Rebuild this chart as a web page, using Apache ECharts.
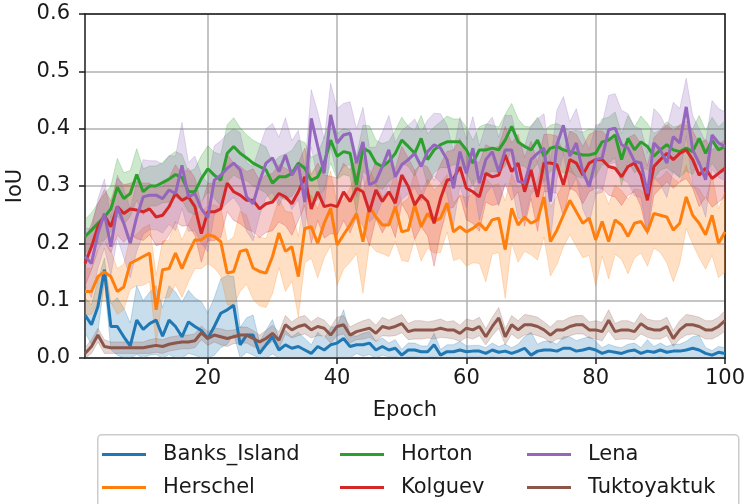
<!DOCTYPE html>
<html>
<head>
<meta charset="utf-8">
<script src="https://cdn.jsdelivr.net/npm/echarts@6/dist/echarts.min.js"></script>
<style>
  html, body { margin: 0; padding: 0; background: #ffffff; }
  #chart { width: 748px; height: 504px; }
</style>
</head>
<body>
<div id="chart"></div>
<script>
// Training curves: mean IoU per epoch for each site, with a shaded spread band.
const epochs = Array.from({ length: 100 }, (_, i) => i + 1);
const xTicks = [20, 40, 60, 80, 100];
const siteNames = ['Banks_Island', 'Herschel', 'Horton', 'Kolguev', 'Lena', 'Tuktoyaktuk'];

const banksIsland = [
  0.075,0.058,0.090,0.154,0.055,0.055,0.037,0.021,0.066,0.050,
  0.060,0.066,0.038,0.066,0.055,0.037,0.063,0.055,0.048,0.034,
  0.055,0.078,0.084,0.092,0.023,0.040,0.040,0.008,0.023,0.037,
  0.014,0.023,0.017,0.020,0.014,0.008,0.020,0.014,0.023,0.026,
  0.034,0.020,0.023,0.023,0.026,0.014,0.020,0.014,0.017,0.005,
  0.014,0.014,0.011,0.011,0.023,0.005,0.011,0.011,0.014,0.011,
  0.012,0.012,0.008,0.014,0.010,0.012,0.008,0.012,0.017,0.005,
  0.012,0.014,0.014,0.012,0.017,0.017,0.012,0.014,0.017,0.014,
  0.008,0.012,0.010,0.008,0.012,0.014,0.008,0.012,0.010,0.014,
  0.010,0.012,0.012,0.014,0.017,0.014,0.008,0.005,0.010,0.008
];
const banksIslandSpread = [
  0.030,0.035,0.045,0.020,0.040,0.050,0.050,0.040,0.060,0.050,
  0.055,0.060,0.050,0.060,0.060,0.060,0.055,0.050,0.050,0.045,
  0.050,0.060,0.060,0.050,0.030,0.030,0.035,0.020,0.025,0.030,
  0.020,0.025,0.020,0.025,0.020,0.015,0.025,0.020,0.030,0.030,
  0.050,0.020,0.015,0.020,0.020,0.015,0.015,0.012,0.015,0.010,
  0.012,0.012,0.010,0.010,0.020,0.010,0.012,0.012,0.015,0.010,
  0.010,0.010,0.010,0.012,0.010,0.012,0.010,0.012,0.020,0.040,
  0.012,0.015,0.015,0.012,0.020,0.020,0.018,0.020,0.020,0.015,
  0.010,0.012,0.010,0.010,0.012,0.012,0.010,0.020,0.010,0.012,
  0.010,0.012,0.012,0.015,0.020,0.025,0.010,0.008,0.010,0.010
];

const herschel = [
  0.116,0.116,0.142,0.150,0.142,0.116,0.124,0.165,0.171,0.177,
  0.183,0.084,0.154,0.156,0.183,0.156,0.183,0.206,0.206,0.215,
  0.212,0.203,0.148,0.151,0.186,0.189,0.157,0.151,0.148,0.177,
  0.218,0.186,0.194,0.142,0.226,0.229,0.200,0.235,0.261,0.197,
  0.215,0.232,0.252,0.203,0.264,0.246,0.232,0.232,0.264,0.220,
  0.223,0.267,0.229,0.252,0.238,0.244,0.270,0.220,0.229,0.220,
  0.226,0.235,0.223,0.241,0.244,0.189,0.261,0.232,0.246,0.235,
  0.241,0.281,0.203,0.223,0.249,0.275,0.255,0.235,0.244,0.206,
  0.238,0.203,0.241,0.232,0.212,0.235,0.238,0.220,0.252,0.249,
  0.246,0.223,0.235,0.281,0.249,0.235,0.215,0.249,0.200,0.220
];
const herschelSpread = [
  0.040,0.040,0.045,0.050,0.045,0.040,0.040,0.045,0.045,0.050,
  0.050,0.060,0.050,0.050,0.055,0.050,0.050,0.050,0.050,0.050,
  0.055,0.060,0.055,0.060,0.070,0.060,0.055,0.060,0.060,0.065,
  0.060,0.070,0.060,0.070,0.060,0.055,0.060,0.060,0.065,0.070,
  0.060,0.065,0.070,0.090,0.065,0.060,0.050,0.055,0.060,0.050,
  0.055,0.060,0.060,0.060,0.055,0.060,0.050,0.050,0.055,0.060,
  0.060,0.070,0.090,0.060,0.060,0.085,0.060,0.065,0.060,0.055,
  0.070,0.070,0.060,0.060,0.055,0.060,0.060,0.060,0.065,0.080,
  0.060,0.065,0.060,0.060,0.065,0.060,0.055,0.060,0.060,0.065,
  0.080,0.090,0.070,0.055,0.050,0.060,0.060,0.070,0.060,0.070
];

const horton = [
  0.212,0.223,0.235,0.246,0.260,0.298,0.278,0.287,0.320,0.290,
  0.300,0.300,0.306,0.312,0.320,0.315,0.290,0.290,0.313,0.330,
  0.319,0.310,0.357,0.369,0.357,0.349,0.340,0.334,0.328,0.305,
  0.316,0.316,0.322,0.340,0.331,0.310,0.316,0.340,0.380,0.352,
  0.360,0.357,0.302,0.366,0.360,0.340,0.334,0.343,0.357,0.380,
  0.369,0.357,0.383,0.346,0.363,0.372,0.377,0.377,0.377,0.363,
  0.340,0.363,0.363,0.366,0.363,0.380,0.404,0.377,0.369,0.363,
  0.380,0.352,0.366,0.369,0.363,0.360,0.357,0.354,0.354,0.357,
  0.377,0.380,0.389,0.346,0.383,0.363,0.377,0.369,0.352,0.363,
  0.372,0.363,0.360,0.366,0.360,0.383,0.357,0.380,0.363,0.369
];
const hortonSpread = [
  0.030,0.030,0.035,0.040,0.040,0.050,0.045,0.040,0.045,0.040,
  0.035,0.035,0.035,0.040,0.040,0.040,0.035,0.040,0.040,0.040,
  0.040,0.045,0.050,0.050,0.045,0.040,0.040,0.040,0.040,0.035,
  0.035,0.040,0.040,0.040,0.045,0.040,0.040,0.045,0.040,0.040,
  0.040,0.040,0.050,0.040,0.045,0.040,0.040,0.035,0.040,0.040,
  0.035,0.040,0.040,0.045,0.040,0.040,0.045,0.040,0.040,0.040,
  0.040,0.040,0.045,0.040,0.040,0.045,0.040,0.040,0.035,0.040,
  0.040,0.045,0.040,0.040,0.040,0.035,0.040,0.040,0.045,0.040,
  0.040,0.040,0.040,0.045,0.040,0.040,0.045,0.040,0.040,0.035,
  0.040,0.040,0.045,0.040,0.040,0.040,0.040,0.040,0.040,0.045
];

const kolguev = [
  0.165,0.194,0.229,0.249,0.229,0.264,0.252,0.260,0.258,0.255,
  0.260,0.246,0.249,0.264,0.287,0.275,0.281,0.264,0.217,0.255,
  0.255,0.260,0.305,0.290,0.284,0.275,0.275,0.260,0.269,0.272,
  0.287,0.281,0.269,0.290,0.316,0.260,0.290,0.264,0.267,0.264,
  0.290,0.273,0.296,0.290,0.255,0.293,0.273,0.290,0.270,0.319,
  0.299,0.267,0.284,0.273,0.235,0.278,0.310,0.313,0.333,0.296,
  0.290,0.281,0.322,0.316,0.319,0.354,0.325,0.340,0.290,0.328,
  0.281,0.340,0.340,0.337,0.302,0.346,0.340,0.319,0.340,0.346,
  0.346,0.334,0.331,0.316,0.334,0.340,0.319,0.275,0.334,0.346,
  0.357,0.346,0.357,0.363,0.346,0.319,0.331,0.313,0.322,0.331
];
const kolguevSpread = [
  0.040,0.040,0.040,0.045,0.045,0.050,0.050,0.045,0.050,0.050,
  0.045,0.050,0.050,0.050,0.050,0.045,0.050,0.050,0.050,0.050,
  0.050,0.050,0.050,0.050,0.050,0.050,0.055,0.050,0.050,0.050,
  0.050,0.050,0.055,0.050,0.050,0.060,0.050,0.055,0.050,0.050,
  0.050,0.055,0.050,0.060,0.060,0.050,0.055,0.050,0.060,0.050,
  0.050,0.060,0.055,0.060,0.075,0.060,0.050,0.050,0.050,0.055,
  0.055,0.060,0.050,0.050,0.050,0.050,0.050,0.050,0.060,0.050,
  0.060,0.050,0.050,0.050,0.055,0.050,0.050,0.050,0.050,0.050,
  0.050,0.050,0.050,0.050,0.050,0.050,0.055,0.060,0.050,0.050,
  0.050,0.050,0.050,0.050,0.050,0.055,0.050,0.050,0.050,0.050
];

const lena = [
  0.177,0.165,0.217,0.252,0.194,0.264,0.235,0.200,0.246,0.281,
  0.284,0.284,0.278,0.293,0.287,0.336,0.281,0.287,0.260,0.245,
  0.310,0.319,0.331,0.340,0.328,0.281,0.269,0.308,0.340,0.349,
  0.325,0.354,0.319,0.337,0.272,0.418,0.369,0.322,0.424,0.375,
  0.389,0.392,0.340,0.377,0.302,0.308,0.334,0.363,0.316,0.337,
  0.346,0.357,0.334,0.360,0.372,0.366,0.346,0.296,0.360,0.322,
  0.366,0.305,0.346,0.360,0.325,0.363,0.363,0.308,0.305,0.346,
  0.357,0.366,0.273,0.372,0.406,0.352,0.375,0.325,0.299,0.346,
  0.349,0.398,0.401,0.372,0.366,0.343,0.340,0.287,0.375,0.363,
  0.340,0.386,0.375,0.438,0.363,0.340,0.311,0.389,0.375,0.369
];
const lenaSpread = [
  0.050,0.060,0.060,0.060,0.050,0.055,0.060,0.060,0.060,0.065,
  0.060,0.060,0.060,0.060,0.065,0.075,0.060,0.065,0.060,0.060,
  0.060,0.060,0.060,0.060,0.065,0.060,0.065,0.060,0.060,0.060,
  0.060,0.065,0.060,0.060,0.060,0.050,0.060,0.060,0.055,0.060,
  0.055,0.055,0.060,0.060,0.065,0.060,0.060,0.060,0.060,0.060,
  0.060,0.060,0.060,0.055,0.055,0.060,0.060,0.065,0.060,0.060,
  0.055,0.065,0.060,0.060,0.060,0.060,0.060,0.065,0.065,0.060,
  0.060,0.060,0.070,0.060,0.050,0.060,0.060,0.065,0.065,0.060,
  0.060,0.060,0.060,0.060,0.060,0.060,0.060,0.070,0.060,0.060,
  0.060,0.060,0.060,0.050,0.060,0.060,0.065,0.060,0.060,0.060
];

const tuktoyaktuk = [
  0.008,0.020,0.040,0.020,0.018,0.018,0.018,0.018,0.018,0.018,
  0.020,0.022,0.020,0.024,0.026,0.028,0.028,0.030,0.044,0.034,
  0.040,0.037,0.034,0.037,0.040,0.040,0.034,0.028,0.034,0.043,
  0.031,0.058,0.049,0.055,0.058,0.049,0.055,0.052,0.040,0.055,
  0.058,0.040,0.046,0.049,0.052,0.043,0.055,0.052,0.055,0.060,
  0.046,0.049,0.049,0.049,0.049,0.052,0.049,0.049,0.043,0.052,
  0.049,0.055,0.037,0.055,0.070,0.037,0.058,0.049,0.058,0.058,
  0.055,0.049,0.040,0.049,0.049,0.055,0.058,0.058,0.049,0.049,
  0.046,0.066,0.046,0.049,0.049,0.046,0.060,0.052,0.049,0.049,
  0.055,0.034,0.049,0.058,0.058,0.055,0.049,0.049,0.055,0.065
];
const tuktoyaktukSpread = [
  0.010,0.012,0.012,0.012,0.010,0.010,0.010,0.010,0.010,0.010,
  0.012,0.012,0.012,0.012,0.012,0.012,0.012,0.012,0.012,0.012,
  0.012,0.014,0.014,0.012,0.014,0.014,0.014,0.012,0.014,0.014,
  0.014,0.016,0.014,0.016,0.016,0.014,0.016,0.014,0.014,0.016,
  0.016,0.014,0.014,0.016,0.016,0.014,0.016,0.014,0.016,0.016,
  0.014,0.016,0.016,0.014,0.016,0.016,0.014,0.016,0.014,0.016,
  0.016,0.016,0.014,0.016,0.018,0.014,0.016,0.016,0.018,0.016,
  0.016,0.014,0.014,0.016,0.016,0.016,0.016,0.016,0.014,0.016,
  0.016,0.018,0.014,0.016,0.016,0.014,0.018,0.016,0.016,0.016,
  0.016,0.014,0.016,0.018,0.016,0.016,0.016,0.016,0.016,0.018
];

const siteMeans = [banksIsland, herschel, horton, kolguev, lena, tuktoyaktuk];
const siteSpreads = [banksIslandSpread, herschelSpread, hortonSpread, kolguevSpread, lenaSpread, tuktoyaktukSpread];
const siteColors = ['#1f77b4', '#ff7f0e', '#2ca02c', '#d62728', '#9467bd', '#8c564b'];

function hexToRgba(hex, a) {
  const n = parseInt(hex.slice(1), 16);
  return 'rgba(' + ((n >> 16) & 255) + ',' + ((n >> 8) & 255) + ',' + (n & 255) + ',' + a + ')';
}

// Band between lower and upper, drawn as one polygon through the axis scales.
function bandSeries(lower, upper, color) {
  return {
    type: 'custom', silent: true, clip: true,
    data: epochs.map((e, i) => [e, lower[i], upper[i]]),
    encode: { x: 0, y: [1, 2] },
    renderItem: function (params, api) {
      if (params.dataIndex !== 0) return null;
      const pts = [];
      for (let j = 0; j < epochs.length; j++) pts.push(api.coord([epochs[j], upper[j]]));
      for (let j = epochs.length - 1; j >= 0; j--) pts.push(api.coord([epochs[j], lower[j]]));
      return {
        type: 'polygon',
        shape: { points: pts },
        style: { fill: hexToRgba(color, 0.24), stroke: hexToRgba(color, 0.24), lineWidth: 1 }
      };
    }
  };
}

const series = [];
siteNames.forEach((name, k) => {
  const mean = siteMeans[k];
  const spread = siteSpreads[k];
  const color = siteColors[k];
  const lower = mean.map((m, i) => Math.max(0, m - spread[i]));
  const upper = mean.map((m, i) => m + spread[i]);
  series.push({
    name: name, type: 'line', symbol: 'none', showSymbol: false,
    itemStyle: { color: color },
    lineStyle: { color: color, width: 3 },
    data: epochs.map((e, i) => [e, mean[i]])
  });
  series.push(bandSeries(lower, upper, color));
});

const textColor = '#1a1a1a';
const font = 'DejaVu Sans';
const fontSize = 21;

// legend laid out as 3 columns x 2 rows
const legendCols = [102, 340, 527];
const legendRows = [442, 475];
const legends = siteNames.map((name, k) => ({
  data: [name],
  left: legendCols[Math.floor(k / 2)],
  top: legendRows[k % 2],
  padding: 0,
  icon: 'rect',
  itemWidth: 44,
  itemHeight: 3,
  selectedMode: false,
  textStyle: { fontFamily: font, fontSize: fontSize, color: textColor, padding: [0, 0, 0, 12], lineHeight: 25 }
}));

const chart = echarts.init(document.getElementById('chart'), null, { renderer: 'canvas' });
chart.setOption({
  backgroundColor: '#ffffff',
  animation: false,
  grid: { left: 85, top: 14, width: 640, height: 344, containLabel: false, outerBoundsMode: 'none' },
  graphic: [{
    type: 'rect', left: 97, top: 434, z: 0,
    shape: { width: 641, height: 100, r: 4 },
    style: { fill: '#ffffff', stroke: '#cccccc', lineWidth: 1.5 }
  }],
  legend: legends,
  xAxis: [{
    type: 'value', min: 1, max: 100,
    name: 'Epoch', nameLocation: 'middle', nameGap: 42,
    nameTextStyle: { fontFamily: font, fontSize: fontSize, color: textColor },
    axisLine: { show: true, onZero: false, lineStyle: { color: '#1a1a1a', width: 1.5 } },
    axisTick: { show: true, length: 6, customValues: xTicks, lineStyle: { color: '#1a1a1a', width: 1.5 } },
    axisLabel: { customValues: xTicks, margin: 10, fontFamily: font, fontSize: fontSize, color: textColor },
    splitLine: { show: true, customValues: xTicks, lineStyle: { color: '#b0b0b0', width: 1.5 } }
  }, {
    type: 'value', min: 1, max: 100, position: 'top',
    axisLine: { show: true, onZero: false, lineStyle: { color: '#1a1a1a', width: 1.5 } },
    axisTick: { show: false }, axisLabel: { show: false }, splitLine: { show: false }
  }],
  yAxis: [{
    type: 'value', min: 0, max: 0.6, interval: 0.1,
    name: 'IoU', nameLocation: 'middle', nameGap: 54,
    nameTextStyle: { fontFamily: font, fontSize: fontSize, color: textColor },
    axisLine: { show: true, onZero: false, lineStyle: { color: '#1a1a1a', width: 1.5 } },
    axisTick: { show: true, length: 6, lineStyle: { color: '#1a1a1a', width: 1.5 } },
    axisLabel: { margin: 15, fontFamily: font, fontSize: fontSize, color: textColor, formatter: v => v.toFixed(1) },
    splitLine: { show: true, lineStyle: { color: '#b0b0b0', width: 1.5 } }
  }, {
    type: 'value', min: 0, max: 0.6, position: 'right',
    axisLine: { show: true, onZero: false, lineStyle: { color: '#1a1a1a', width: 1.5 } },
    axisTick: { show: false }, axisLabel: { show: false }, splitLine: { show: false }
  }],
  series: series
});
</script>
</body>
</html>
